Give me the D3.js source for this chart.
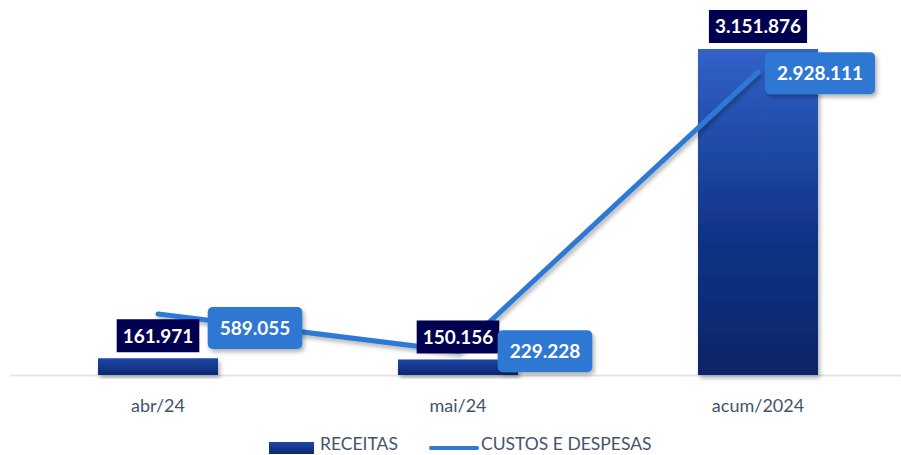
<!DOCTYPE html>
<html>
<head>
<meta charset="utf-8">
<script src="https://cdn.jsdelivr.net/npm/d3@7"></script>
<style>
  body { margin: 0; background: #fff; }
  svg { display: block; font-family: Lato, "Open Sans", sans-serif; }
</style>
</head>
<body>
<div id="chart"></div>
<script>
var categories = ['abr/24', 'mai/24', 'acum/2024'];
var receitas = [161971, 150156, 3151876];
var custos = [589055, 229228, 2928111];
var seriesNames = ['RECEITAS', 'CUSTOS E DESPESAS'];

var width = 901, height = 455;
var baseY = 375;

// label offsets (px) for the line labels, as placed in the original
var lineLabelDx = [97, 87, 62];
var lineLabelDy = [14, 0, 1];

function fmt(v) {
  return d3.format(',')(v).replace(/,/g, '.');
}

var svg = d3.select('#chart')
  .append('svg')
  .attr('width', width)
  .attr('height', height);

var defs = svg.append('defs');

var grad = defs.append('linearGradient')
  .attr('id', 'barGrad')
  .attr('x1', 0).attr('y1', 0).attr('x2', 0).attr('y2', 1);
grad.append('stop').attr('offset', '0%').attr('stop-color', '#3262c9');
grad.append('stop').attr('offset', '55%').attr('stop-color', '#113589');
grad.append('stop').attr('offset', '100%').attr('stop-color', '#0a2468');

var smallGrad = defs.append('linearGradient')
  .attr('id', 'smallGrad')
  .attr('x1', 0).attr('y1', 0).attr('x2', 0).attr('y2', 1);
smallGrad.append('stop').attr('offset', '0%').attr('stop-color', '#1f47a8');
smallGrad.append('stop').attr('offset', '100%').attr('stop-color', '#0b2870');

var shadow = defs.append('filter')
  .attr('id', 'shadow')
  .attr('x', '-20%').attr('y', '-20%').attr('width', '140%').attr('height', '140%');
shadow.append('feDropShadow')
  .attr('dx', 2).attr('dy', 3).attr('stdDeviation', 2)
  .attr('flood-color', '#000').attr('flood-opacity', 0.3);

var xScale = d3.scaleBand()
  .domain(categories)
  .range([8, 908])
  .paddingInner(0.6)
  .paddingOuter(0.3);

var yScale = d3.scaleLinear()
  .domain([0, 3151876])
  .range([baseY, 49]);

// baseline
svg.append('line')
  .attr('x1', 10).attr('x2', 901)
  .attr('y1', baseY + 0.5).attr('y2', baseY + 0.5)
  .attr('stroke', '#e2e5ea')
  .attr('stroke-width', 2);

// bars
svg.selectAll('rect.bar')
  .data(receitas)
  .enter()
  .append('rect')
  .attr('class', 'bar')
  .attr('x', function (d, i) { return xScale(categories[i]); })
  .attr('y', function (d) { return yScale(d); })
  .attr('width', xScale.bandwidth())
  .attr('height', function (d) { return baseY - yScale(d); })
  .attr('fill', function (d) { return d > 1000000 ? 'url(#barGrad)' : 'url(#smallGrad)'; })
  .attr('filter', 'url(#shadow)');

// line
var cx = function (i) { return xScale(categories[i]) + xScale.bandwidth() / 2; };
var line = d3.line()
  .x(function (d, i) { return cx(i); })
  .y(function (d) { return yScale(d); });

svg.append('path')
  .datum(custos)
  .attr('d', line)
  .attr('fill', 'none')
  .attr('stroke', '#2e79d6')
  .attr('stroke-width', 5)
  .attr('stroke-linecap', 'round')
  .attr('filter', 'url(#shadow)');

// bar labels
var barLab = svg.selectAll('g.barlab')
  .data(receitas)
  .enter()
  .append('g')
  .attr('class', 'barlab');

barLab.append('text')
  .attr('x', function (d, i) { return cx(i); })
  .attr('y', function (d) { return yScale(d) - 6 - 16.5; })
  .attr('dy', '0.36em')
  .attr('text-anchor', 'middle')
  .attr('font-size', 19)
  .attr('font-weight', 'bold')
  .attr('fill', '#fff')
  .text(function (d) { return fmt(d); })
  .each(function (d) {
    var b = this.getBBox();
    d3.select(this.parentNode).insert('rect', 'text')
      .attr('x', b.x - 6).attr('y', yScale(d) - 6 - 33)
      .attr('width', b.width + 12).attr('height', 33)
      .attr('fill', '#000050');
  });

// line labels
var lineLab = svg.selectAll('g.linelab')
  .data(custos)
  .enter()
  .append('g')
  .attr('class', 'linelab');

lineLab.append('text')
  .attr('x', function (d, i) { return cx(i) + lineLabelDx[i]; })
  .attr('y', function (d, i) { return yScale(d) + lineLabelDy[i]; })
  .attr('dy', '0.36em')
  .attr('text-anchor', 'middle')
  .attr('font-size', 19)
  .attr('font-weight', 'bold')
  .attr('fill', '#fff')
  .text(function (d) { return fmt(d); })
  .each(function (d, i) {
    var b = this.getBBox();
    d3.select(this.parentNode).insert('rect', 'text')
      .attr('x', b.x - 12).attr('y', yScale(d) + lineLabelDy[i] - 21)
      .attr('width', b.width + 24).attr('height', 42)
      .attr('rx', 5)
      .attr('fill', '#2f78d4')
      .attr('filter', 'url(#shadow)');
  });

// x axis labels
var xAxis = d3.axisBottom(xScale).tickSize(0).tickPadding(0);
var gx = svg.append('g')
  .attr('transform', 'translate(0,' + (baseY + 37) + ')')
  .call(xAxis);
gx.select('.domain').remove();
gx.selectAll('text')
  .attr('font-family', 'Lato, "Open Sans", sans-serif')
  .attr('font-size', 18)
  .attr('fill', '#44546a')
  .attr('dy', 0);

// legend
var legend = svg.append('g').attr('transform', 'translate(0,450)');
legend.append('rect')
  .attr('x', 269).attr('y', -8)
  .attr('width', 45).attr('height', 12)
  .attr('fill', 'url(#smallGrad)');
legend.append('text')
  .attr('x', 320).attr('y', 0)
  .attr('font-size', 17.5)
  .attr('fill', '#44546a')
  .text(seriesNames[0]);
legend.append('line')
  .attr('x1', 431).attr('x2', 477)
  .attr('y1', -2).attr('y2', -2)
  .attr('stroke', '#2e79d6')
  .attr('stroke-width', 4)
  .attr('stroke-linecap', 'round');
legend.append('text')
  .attr('x', 481).attr('y', 0)
  .attr('font-size', 17.5)
  .attr('fill', '#44546a')
  .text(seriesNames[1]);
</script>
</body>
</html>
